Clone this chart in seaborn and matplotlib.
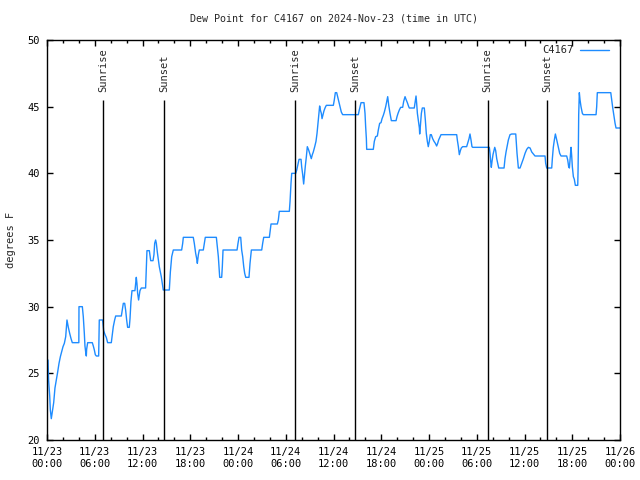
#!/usr/bin/env python3
# Dew point trace for station C4167, 2024-11-23 .. 2024-11-26 (UTC), gnuplot look.

import matplotlib

matplotlib.use("Agg")
import matplotlib.dates as mdates  # noqa: E402
import matplotlib.pyplot as plt  # noqa: E402
import pandas as pd  # noqa: E402
import seaborn as sns  # noqa: E402

START = pd.Timestamp("2024-11-23 00:00")
END = pd.Timestamp("2024-11-26 00:00")
STATION = "C4167"
TITLE = "Dew Point for C4167 on 2024-Nov-23 (time in UTC)"
YLABEL = "degrees F"
LINE_COLOR = "#1e8cff"

# hours since START, dew point in deg F
HOURS = [
    0.13, 0.2, 0.34, 0.42, 0.54, 0.67, 0.84, 1.0, 1.17, 1.34, 1.51, 1.68, 1.84,
    2.01, 2.18, 2.35, 2.51, 2.68, 2.85, 3.02, 3.18, 4.0, 4.02, 4.44, 4.56, 4.69,
    4.77, 4.86, 4.94, 4.98, 5.11, 5.69, 5.82, 5.95, 6.07, 6.2, 6.49, 6.53, 6.57,
    6.99, 7.12, 7.29, 7.45, 7.62, 8.08, 8.21, 8.33, 8.5, 8.63, 9.34, 9.42, 9.59,
    9.76, 9.88, 10.01, 10.13, 10.34, 10.43, 10.55, 10.68, 11.05, 11.14, 11.22,
    11.3, 11.39, 11.51, 11.6, 11.68, 11.85, 12.39, 12.48, 12.56, 12.86, 13.03,
    13.32, 13.44, 13.53, 13.65, 13.74, 13.86, 13.99, 14.11, 14.24, 14.36, 14.49,
    14.61, 15.37, 15.5, 15.67, 15.87, 16.92, 17.05, 17.13, 18.38, 18.51, 18.68,
    18.81, 18.89, 19.02, 19.14, 19.64, 19.77, 19.89, 21.28, 21.4, 21.53, 21.61,
    21.7, 21.95, 22.03, 22.12, 23.88, 24.0, 24.13, 24.34, 24.46, 24.59, 24.72,
    24.84, 24.97, 25.38, 25.51, 25.68, 26.98, 27.1, 27.23, 27.94, 28.06, 28.15,
    28.94, 29.07, 29.19, 30.45, 30.54, 30.66, 30.75, 31.25, 31.38, 31.54, 31.67,
    31.92, 32.0, 32.13, 32.25, 32.33, 32.46, 32.59, 32.71, 32.88, 33.05, 33.21,
    33.34, 33.46, 33.64, 33.8, 33.93, 34.05, 34.18, 34.26, 34.35, 34.47, 34.56,
    34.68, 34.81, 34.97, 35.1, 35.98, 36.1, 36.23, 36.4, 36.52, 36.65, 36.82,
    36.98, 37.15, 39.12, 39.24, 39.46, 39.83, 39.96, 40.04, 40.13, 40.17, 41.0,
    41.13, 41.3, 41.51, 41.63, 41.8, 41.97, 42.1, 42.26, 42.39, 42.56, 42.69,
    42.81, 42.94, 43.1, 43.27, 43.86, 43.98, 44.11, 44.27, 44.44, 44.69, 44.82,
    44.99, 45.11, 45.28, 45.45, 45.53, 46.15, 46.24, 46.37, 46.45, 46.54, 46.66,
    46.79, 46.83, 46.91, 47.04, 47.16, 47.41, 47.54, 47.66, 47.79, 47.91, 48.04,
    48.16, 48.29, 48.46, 48.63, 48.8, 48.96, 49.09, 49.21, 49.39, 49.51, 51.48,
    51.56, 51.69, 51.81, 51.94, 52.06, 52.23, 52.73, 52.86, 53.03, 53.15, 53.28,
    53.4, 53.49, 55.58, 55.67, 55.75, 55.83, 55.92, 56.04, 56.26, 56.38, 56.51,
    56.63, 56.76, 57.43, 57.55, 57.68, 57.84, 57.97, 58.18, 58.39, 58.9, 58.98,
    59.06, 59.15, 59.23, 59.44, 59.65, 59.86, 60.07, 60.28, 60.49, 60.7, 60.91,
    61.11, 61.32, 62.58, 62.66, 62.79, 63.42, 63.5, 63.62, 63.75, 63.88, 63.96,
    64.09, 64.25, 64.42, 64.59, 65.3, 65.43, 65.55, 65.64, 65.72, 65.85, 65.93,
    66.01, 66.14, 66.26, 66.39, 66.69, 66.73, 66.77, 66.81, 66.89, 66.98, 67.1,
    67.27, 67.39, 68.99, 69.07, 69.15, 70.84, 70.96, 71.09, 71.25, 71.38, 71.5,
    72.0,
]
DEW_POINT = [
    26.0, 24.5, 23.3, 22.25, 21.6, 22.1, 22.8, 23.9, 24.5, 25.1, 25.75, 26.25,
    26.6, 27.0, 27.25, 27.75, 29.0, 28.45, 28.0, 27.6, 27.3, 27.3, 30.0, 30.0,
    29.25, 28.0, 27.05, 26.6, 26.3, 26.8, 27.3, 27.3, 27.05, 26.75, 26.4, 26.3,
    26.3, 27.6, 29.0, 29.0, 28.2, 27.9, 27.7, 27.3, 27.3, 27.9, 28.5, 29.0, 29.3,
    29.3, 29.6, 30.25, 30.25, 29.75, 29.0, 28.45, 28.45, 29.1, 30.4, 31.2, 31.2,
    31.75, 32.2, 31.75, 31.0, 30.5, 30.9, 31.2, 31.4, 31.4, 32.8, 34.2, 34.2,
    33.45, 33.45, 33.9, 34.75, 35.0, 34.75, 34.1, 33.5, 33.0, 32.6, 32.25, 31.75,
    31.25, 31.25, 32.6, 33.75, 34.25, 34.25, 34.75, 35.2, 35.2, 34.75, 34.0,
    33.6, 33.25, 33.9, 34.25, 34.25, 34.75, 35.2, 35.2, 34.5, 33.75, 33.0, 32.2,
    32.2, 33.0, 34.25, 34.25, 34.75, 35.2, 35.2, 34.25, 33.75, 33.0, 32.5, 32.2,
    32.2, 33.25, 34.25, 34.25, 34.75, 35.2, 35.2, 35.75, 36.2, 36.2, 36.5, 37.15,
    37.15, 37.9, 39.25, 40.0, 40.0, 40.25, 40.7, 41.05, 41.05, 40.5, 39.9, 39.2,
    39.75, 40.55, 41.25, 42.0, 41.75, 41.4, 41.1, 41.4, 41.6, 42.0, 42.4, 43.0,
    43.75, 44.5, 45.05, 44.75, 44.5, 44.1, 44.4, 44.7, 44.95, 45.1, 45.1, 45.5,
    46.05, 46.05, 45.75, 45.4, 45.0, 44.6, 44.4, 44.4, 44.75, 45.3, 45.3, 44.5,
    43.5, 42.6, 41.8, 41.8, 42.4, 42.75, 42.8, 43.25, 43.75, 43.8, 44.1, 44.35,
    44.6, 45.0, 45.4, 45.75, 45.1, 44.5, 43.95, 43.95, 44.25, 44.5, 44.75, 44.95,
    44.95, 45.4, 45.75, 45.55, 45.3, 45.0, 44.9, 44.9, 45.25, 45.8, 45.25, 44.5,
    44.0, 43.4, 42.95, 43.5, 44.5, 44.9, 44.9, 44.0, 43.0, 42.4, 42.0, 42.4,
    42.9, 42.9, 42.6, 42.4, 42.25, 42.05, 42.25, 42.5, 42.75, 42.9, 42.9, 42.5,
    42.0, 41.4, 41.7, 41.9, 42.0, 42.0, 42.25, 42.6, 42.95, 42.5, 42.0, 41.95,
    41.95, 41.5, 40.9, 40.45, 40.9, 41.4, 41.95, 41.7, 41.1, 40.75, 40.4, 40.4,
    41.1, 41.6, 42.1, 42.5, 42.9, 42.95, 42.95, 42.25, 41.5, 40.9, 40.4, 40.4,
    40.75, 41.1, 41.5, 41.8, 41.95, 41.9, 41.6, 41.45, 41.3, 41.3, 40.75, 40.4,
    40.4, 41.1, 41.95, 42.5, 42.95, 42.75, 42.4, 41.95, 41.5, 41.3, 41.3, 41.0,
    40.5, 40.4, 41.0, 41.95, 41.3, 40.5, 39.75, 39.55, 39.1, 39.1, 40.25, 42.0,
    44.4, 46.05, 45.5, 45.0, 44.5, 44.4, 44.4, 45.0, 46.05, 46.05, 45.5, 44.9,
    44.25, 43.75, 43.4, 43.4,
]

# sun events, hours since START
SUN_EVENTS = ["Sunrise", "Sunset", "Sunrise", "Sunset", "Sunrise", "Sunset"]
SUN_HOURS = [7.08, 14.74, 31.2, 38.74, 55.37, 62.87]

YMIN, YMAX = 20, 50
SUN_LINE_TOP = 45.5

df = pd.DataFrame({"Hours": HOURS, "DewPoint": DEW_POINT})
df["Time"] = START + pd.to_timedelta(df["Hours"], unit="h")

sns.set_style("ticks")
plt.rcParams["font.family"] = ["DejaVu Sans Mono", "DejaVu Sans"]
plt.rcParams["font.size"] = 7.5

fig = plt.figure(figsize=(6.4, 4.8), dpi=100)
ax = fig.add_axes([47 / 640, 40 / 480, 573 / 640, 400 / 480])

sns.lineplot(
    data=df,
    x="Time",
    y="DewPoint",
    color=LINE_COLOR,
    linewidth=1.0,
    estimator=None,
    sort=False,
    label=STATION,
    ax=ax,
)

# sunrise / sunset markers
for name, h in zip(SUN_EVENTS, SUN_HOURS):
    t = START + pd.Timedelta(hours=h)
    ax.vlines(t, YMIN, SUN_LINE_TOP, color="black", linewidth=1.0)
    ax.text(t, SUN_LINE_TOP + 0.6, name, rotation=90, ha="center", va="bottom",
            fontsize=7.5)

ax.set_xlim(START, END)
ax.set_ylim(YMIN, YMAX)
ax.set_yticks(range(YMIN, YMAX + 1, 5))
ax.xaxis.set_major_locator(mdates.HourLocator(byhour=[0, 6, 12, 18]))
ax.xaxis.set_minor_locator(mdates.HourLocator(byhour=range(0, 24, 2)))
ax.xaxis.set_major_formatter(mdates.DateFormatter("%m/%d\n%H:%M"))

ax.tick_params(which="both", direction="in", top=True, right=True,
               colors="black", width=1.0)
ax.tick_params(which="major", length=4, pad=5)
ax.tick_params(which="minor", length=2)
for side in ax.spines.values():
    side.set_visible(True)
    side.set_linewidth(1.0)
    side.set_color("black")

ax.set_xlabel("")
ax.set_ylabel(YLABEL, labelpad=8)
ax.set_title(TITLE, fontsize=7.2, pad=13)
ax.grid(False)

ax.legend(loc="upper right", bbox_to_anchor=(0.99, 1.0), frameon=False,
          markerfirst=False, handlelength=2.8, borderaxespad=0.3,
          borderpad=0.2, handletextpad=0.6)

fig.savefig("out.png", dpi=100)
plt.close(fig)
